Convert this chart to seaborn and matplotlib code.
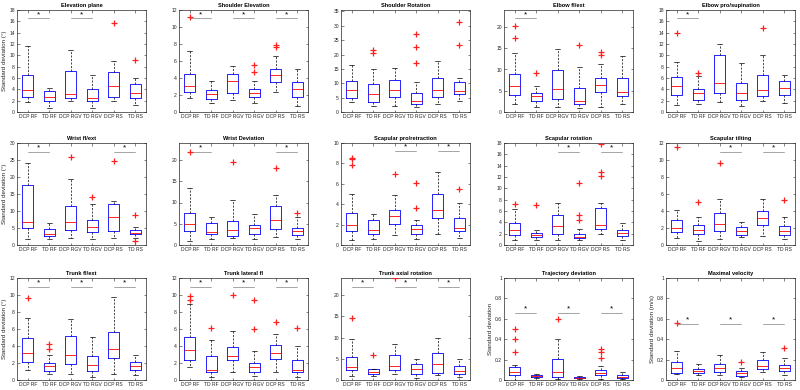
import numpy as np
import pandas as pd
import matplotlib
matplotlib.use("Agg")
import matplotlib.pyplot as plt
import seaborn as sns
from matplotlib.ticker import MultipleLocator

# ---------------- data ----------------
groups = ["DCP RF", "TD RF", "DCP RGV", "TD RGV", "DCP RS", "TD RS"]

titles = ["Elevation plane", "Shoulder Elevation", "Shoulder Rotation", "Elbow fl/ext",
          "Elbow pro/supination", "Wrist fl/ext", "Wrist Deviation", "Scapular pro/retraction",
          "Scapular rotation", "Scapular tilting", "Trunk fl/ext", "Trunk lateral fl",
          "Trunk axial rotation", "Trajectory deviation", "Maximal velocity"]

ylabels = ["Standard deviation (\u00b0)", "", "", "", "",
           "Standard deviation (\u00b0)", "", "", "", "",
           "Standard deviation (\u00b0)", "", "", "Standard deviation", "Standard deviation (m/s)"]

ymax = [18, 12, 35.5, 24, 18, 30, 24, 10, 18, 12, 12, 12, 24, 1, 1]
ystep = [2, 2, 5, 5, 2, 5, 5, 2, 2, 2, 2, 2, 5, 0.2, 0.2]

whisker_low = [
    [1.8, 0.7, 1.9, 0.7, 1.9, 1.2],
    [1.6, 1.1, 1.4, 1.1, 2.3, 0.7],
    [3.4, 2.2, 2.0, 1.6, 2.8, 3.8],
    [2.0, 1.1, 1.2, 0.9, 1.1, 1.8],
    [1.2, 1.5, 1.7, 1.0, 1.9, 1.6],
    [1.9, 1.8, 2.2, 1.9, 2.2, 2.0],
    [0.9, 1.3, 1.6, 1.5, 1.8, 1.5],
    [0.5, 0.6, 1.0, 0.6, 1.1, 0.7],
    [0.9, 0.8, 0.9, 0.8, 2.0, 0.8],
    [0.8, 0.5, 0.7, 1.0, 1.1, 0.7],
    [1.2, 0.7, 0.7, 0.4, 0.7, 0.6],
    [1.5, 0.4, 1.0, 0.5, 1.0, 0.3],
    [1.0, 1.0, 1.4, 0.5, 1.1, 0.8],
    [0.00, 0.02, 0.01, 0.01, 0.01, 0.01],
    [0.06, 0.05, 0.05, 0.03, 0.08, 0.05],
]
q1 = [
    [2.7, 1.9, 2.4, 1.9, 2.6, 2.4],
    [2.4, 1.5, 2.2, 1.8, 3.5, 1.8],
    [4.8, 3.4, 5.2, 2.8, 5.2, 6.4],
    [3.9, 2.7, 3.0, 2.0, 4.8, 3.7],
    [3.0, 2.2, 3.4, 2.1, 2.8, 3.0],
    [5.0, 2.6, 4.3, 3.9, 4.1, 3.2],
    [3.4, 2.5, 2.2, 2.5, 3.7, 2.3],
    [1.4, 1.1, 2.1, 1.1, 2.6, 1.4],
    [1.8, 1.4, 2.0, 1.2, 2.9, 1.6],
    [1.5, 1.3, 1.7, 1.2, 2.3, 1.2],
    [2.1, 1.1, 1.9, 1.1, 2.6, 1.2],
    [2.3, 0.9, 2.3, 1.0, 2.5, 1.0],
    [2.3, 1.4, 2.4, 1.3, 1.7, 1.3],
    [0.05, 0.03, 0.03, 0.015, 0.05, 0.02],
    [0.07, 0.07, 0.08, 0.04, 0.11, 0.09],
]
median = [
    [3.9, 2.6, 3.1, 2.4, 4.6, 3.3],
    [3.1, 2.1, 3.6, 2.2, 4.4, 2.7],
    [7.5, 6.3, 7.6, 3.8, 7.8, 7.4],
    [6.0, 3.8, 5.3, 2.7, 6.3, 4.8],
    [4.5, 3.4, 5.1, 3.3, 3.8, 4.2],
    [6.9, 3.2, 6.9, 5.4, 8.2, 3.5],
    [4.9, 3.0, 3.6, 4.1, 5.8, 3.2],
    [2.0, 1.5, 2.8, 1.6, 3.4, 1.7],
    [2.6, 1.8, 3.3, 1.5, 3.5, 2.1],
    [2.0, 1.8, 2.5, 1.7, 3.2, 1.7],
    [3.2, 1.6, 2.9, 1.8, 3.7, 1.6],
    [3.5, 1.2, 2.8, 1.5, 3.2, 1.2],
    [3.1, 1.8, 3.4, 2.7, 3.7, 2.2],
    [0.08, 0.04, 0.08, 0.02, 0.07, 0.03],
    [0.12, 0.09, 0.12, 0.07, 0.14, 0.12],
]
q3 = [
    [6.5, 3.7, 7.3, 4.0, 7.0, 5.0],
    [4.5, 2.6, 4.5, 2.7, 5.0, 3.5],
    [10.8, 9.8, 11.1, 6.6, 12.0, 10.4],
    [8.9, 4.4, 9.8, 5.6, 8.0, 8.0],
    [6.2, 4.0, 10.0, 5.2, 6.5, 5.4],
    [17.7, 4.8, 11.5, 7.4, 12.0, 4.4],
    [7.5, 5.1, 5.6, 4.8, 9.1, 4.0],
    [3.1, 2.5, 3.4, 2.0, 5.0, 2.6],
    [3.9, 2.2, 5.3, 2.0, 6.5, 2.7],
    [3.0, 2.4, 3.8, 2.1, 4.0, 2.2],
    [4.9, 2.0, 5.2, 2.8, 5.6, 2.1],
    [5.1, 2.8, 3.9, 2.0, 4.1, 2.4],
    [5.4, 2.5, 6.0, 3.8, 6.4, 3.2],
    [0.13, 0.05, 0.21, 0.03, 0.10, 0.045],
    [0.18, 0.11, 0.16, 0.09, 0.20, 0.15],
]
whisker_high = [
    [11.6, 4.3, 10.9, 6.5, 9.0, 6.0],
    [7.2, 3.6, 5.4, 3.7, 6.6, 5.1],
    [16.4, 15.0, 15.4, 10.4, 17.8, 12.0],
    [13.8, 6.1, 14.9, 10.6, 11.2, 13.1],
    [8.8, 6.4, 12.0, 8.6, 10.0, 6.6],
    [24.0, 6.5, 19.5, 12.0, 12.8, 5.4],
    [13.3, 6.5, 10.6, 7.3, 11.8, 6.5],
    [5.0, 3.0, 4.9, 2.5, 7.2, 4.1],
    [6.4, 2.7, 7.5, 2.9, 7.5, 3.8],
    [4.1, 3.3, 5.4, 2.7, 5.4, 3.3],
    [7.3, 3.0, 7.2, 5.1, 9.8, 2.9],
    [8.9, 4.7, 5.8, 3.4, 5.4, 4.0],
    [7.0, 2.6, 8.5, 5.0, 9.8, 5.0],
    [0.15, 0.06, 0.40, 0.04, 0.14, 0.08],
    [0.28, 0.16, 0.25, 0.12, 0.27, 0.22],
]
outliers = [
    [[], [], [], [], [15.7], [9.1]],
    [[11.2], [], [], [4.7, 5.5], [7.6, 7.9], []],
    [[], [20.4, 21.6], [], [17.0, 22.7, 27.2], [], [23.4, 31.4]],
    [[17.5, 20.2], [9.2], [], [15.8], [13.3, 14.0], []],
    [[14.0], [6.8], [], [], [14.9], []],
    [[], [], [26.0], [14.2], [24.7], [1.3, 8.8]],
    [[22.0], [], [19.6], [], [18.1], [7.5]],
    [[7.8, 8.4, 8.5], [], [7.0], [3.6, 6.1], [], [5.5]],
    [[7.2], [7.1], [], [4.4, 5.3, 11.0], [12.2, 12.8, 17.8], []],
    [[11.5], [5.1], [9.6], [], [], [5.3]],
    [[9.6], [3.6, 4.2], [], [], [], []],
    [[9.4, 9.9], [6.1], [10.0], [6.0, 9.4], [6.8], [6.1]],
    [[9.6, 14.5], [5.8], [23.9], [], [], []],
    [[0.27, 0.40, 0.50], [], [0.60], [], [0.22, 0.27, 0.30], []],
    [[0.56], [], [], [0.18], [], [0.31]],
]
sig_pairs = [
    [(0, 1), (2, 3)],
    [(0, 1), (2, 3), (4, 5)],
    [],
    [(0, 1)],
    [(0, 1)],
    [(0, 1), (4, 5)],
    [(0, 1), (4, 5)],
    [(2, 3), (4, 5)],
    [(2, 3), (4, 5)],
    [(2, 3), (4, 5)],
    [(0, 1), (2, 3), (4, 5)],
    [(0, 1), (2, 3), (4, 5)],
    [(0, 1), (2, 3), (4, 5)],
    [(0, 1), (2, 3), (4, 5)],
    [(0, 1), (2, 3), (4, 5)],
]
sig_y = [16.5, 11.0, 0, 22.0, 16.5, 27.5, 22.0, 9.2, 16.4, 11.0, 11.0, 11.0, 22.0, 0.66, 0.55]


def box_sample(lo, a, m, b, hi, outs):
    hi_out = sorted(o for o in outs if o > b)
    lo_out = sorted(o for o in outs if o < a)
    k = max(len(hi_out), len(lo_out)) + 1
    vals = (lo_out + [lo] * (k - len(lo_out)) + [a] * k + [m] * k + [b]
            + [hi] * (k - len(hi_out)) + hi_out)
    return vals


# ---------------- figure ----------------
sns.set_theme(style="white")
plt.rcParams["font.family"] = ["Liberation Sans", "DejaVu Sans"]

W, H = 800, 390
fig = plt.figure(figsize=(W / 100, H / 100), dpi=100)

col_left = [17, 179, 341, 504, 666]
row_top = [10, 143, 278]
ax_w, ax_h = 129, 102

for p in range(15):
    r, c = divmod(p, 5)
    rect = [col_left[c] / W, 1 - (row_top[r] + ax_h) / H, ax_w / W, ax_h / H]
    ax = fig.add_axes(rect)

    rows = []
    for g in range(6):
        for v in box_sample(whisker_low[p][g], q1[p][g], median[p][g], q3[p][g],
                            whisker_high[p][g], outliers[p][g]):
            rows.append((groups[g], v))
    df = pd.DataFrame(rows, columns=["group", "value"])

    sns.boxplot(data=df, x="group", y="value", order=groups, ax=ax,
                width=0.5, whis=1.5, fill=False, color="#0000ff", linewidth=0.6,
                boxprops=dict(color="#0000ff", linewidth=0.6),
                medianprops=dict(color="#ff0000", linewidth=0.6),
                whiskerprops=dict(color="black", linestyle=(0, (3, 2)), linewidth=0.5),
                capprops=dict(color="black", linewidth=0.5),
                flierprops=dict(marker="+", markeredgecolor="#ff0000",
                                markerfacecolor="none", markersize=4, markeredgewidth=0.9,
                                linestyle="none"))
    for ln in ax.lines:
        if ln.get_marker() == "+":
            ln.set_markeredgecolor("#ff2020")
            ln.set_color("#ff2020")
            ln.set_zorder(5)

    ax.set_xlim(-0.5, 5.5)
    ax.set_ylim(0, ymax[p])
    ax.yaxis.set_major_locator(MultipleLocator(ystep[p]))
    if ystep[p] < 1:
        ax.yaxis.set_major_formatter(plt.FuncFormatter(lambda v, _: f"{v:g}"))
    ax.set_xlabel("")
    ax.set_ylabel(ylabels[p], fontsize=4.5, color="#262626", labelpad=1.5)
    ax.set_title(titles[p], fontsize=4.1, fontweight="bold", pad=2, color="black")
    ax.tick_params(axis="both", labelsize=3.6, colors="#262626", direction="in",
                   length=1.8, width=0.4, pad=1.5, top=True, right=True,
                   bottom=True, left=True)
    for s in ax.spines.values():
        s.set_linewidth(0.5)
        s.set_color("#262626")

    span = ymax[p]
    for (i, j) in sig_pairs[p]:
        ax.plot([i, j], [sig_y[p], sig_y[p]], color="#969696", linewidth=0.6)
        ax.text((i + j) / 2, sig_y[p] + 0.04 * span, "*", ha="center", va="center",
                fontsize=6, color="black")

fig.savefig("out.png", dpi=100)
